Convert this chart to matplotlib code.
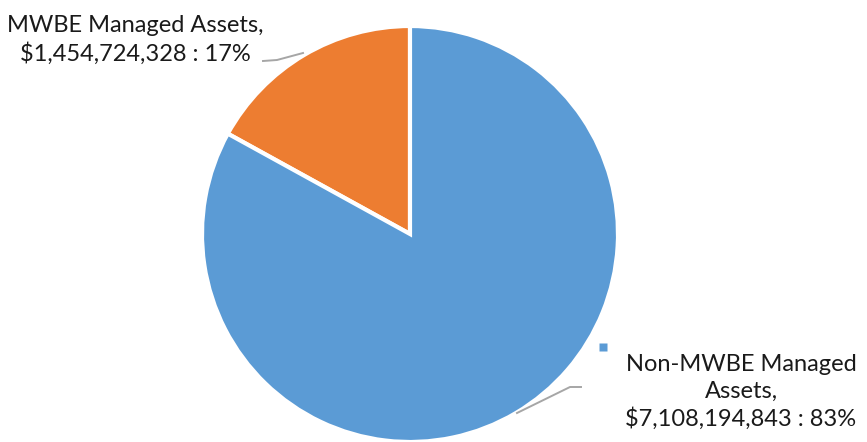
import matplotlib.pyplot as plt

# Managed assets split
labels = ["MWBE Managed Assets,", "Non-MWBE Managed\nAssets,"]
values = [1454724328, 7108194843]
colors = ["#ED7D31", "#5B9BD5"]

W, H = 867, 442
fig = plt.figure(figsize=(W / 100, H / 100), dpi=100)
ax = fig.add_axes([0, 0, 1, 1])

cx, cy, r = 410, H - 234, 208
ax.pie(values, colors=colors, startangle=90, counterclock=True,
       center=(cx, cy), radius=r, frame=True,
       wedgeprops=dict(edgecolor="white", linewidth=3))
ax.set_xlim(0, W)
ax.set_ylim(0, H)
ax.axis("off")

total = sum(values)
texts = [f"{lab}\n${v:,} : {v / total * 100:.0f}%" for lab, v in zip(labels, values)]

font = dict(family="Lato", fontsize=17, color="#1a1a1a", linespacing=1.3)

# MWBE label and leader
ax.text(135, H - 40, texts[0], ha="center", va="center", **font)
ax.plot([263, 277, 303], [H - 61, H - 60, H - 53], color="#A6A6A6", lw=1.4)

# Non-MWBE label, marker and leader
ax.text(741, H - 392, texts[1], ha="center", va="center", **font)
ax.plot([517, 570, 581], [H - 413, H - 387, H - 387], color="#A6A6A6", lw=1.4)
ax.plot([603], [H - 347], marker="s", ms=6, color=colors[1], mec="none")

fig.savefig("out.png", dpi=100)
